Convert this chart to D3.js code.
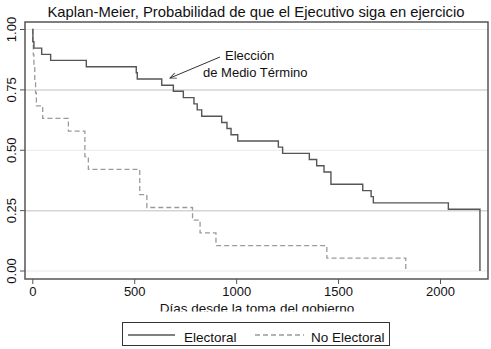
<!DOCTYPE html>
<html><head><meta charset="utf-8">
<script src="https://cdn.jsdelivr.net/npm/d3@7"></script>
<style>body{margin:0;background:#fff}svg{display:block}text{font-family:"Liberation Sans",Arial,sans-serif;fill:#111}</style>
</head><body>
<svg id="c" width="491" height="349"></svg>
<script>
// Data (Kaplan-Meier step curves)
const electoralDays = [0, 3, 8, 46, 90, 265, 510, 515, 635, 692, 741, 793, 809, 831, 929, 955, 975, 1008, 1207, 1228, 1359, 1395, 1431, 1465, 1621, 1662, 1673, 2041, 2196];
const electoralSurv = [1.000, 0.949, 0.923, 0.897, 0.872, 0.846, 0.821, 0.795, 0.769, 0.744, 0.718, 0.692, 0.667, 0.641, 0.615, 0.590, 0.564, 0.538, 0.513, 0.487, 0.462, 0.436, 0.410, 0.359, 0.333, 0.308, 0.282, 0.256, 0.000];
const noElectoralDays = [0, 2, 5, 8, 12, 16, 20, 51, 177, 258, 275, 527, 562, 786, 823, 901, 1445, 1832];
const noElectoralSurv = [1.000, 0.947, 0.895, 0.842, 0.789, 0.737, 0.684, 0.632, 0.579, 0.474, 0.421, 0.316, 0.263, 0.211, 0.158, 0.105, 0.053, 0.000];
const xTicks = [0, 500, 1000, 1500, 2000];
const yTicks = [0, 0.25, 0.5, 0.75, 1];
const seriesNames = ["Electoral", "No Electoral"];
const titleText = "Kaplan-Meier, Probabilidad de que el Ejecutivo siga en ejercicio";
const xTitle = "Días desde la toma del gobierno";
const annotation = ["Elección", "de Medio Término"];

const svg = d3.select("#c");
const x = d3.scaleLinear().domain([0, 2000]).range([32.3, 440]);
const y = d3.scaleLinear().domain([0, 1]).range([271, 29.5]);
const L = 25, R = 488, T = 22, B = 279;

// gridlines
svg.append("g").selectAll("line").data(yTicks).join("line")
  .attr("x1", L).attr("x2", R).attr("y1", d => y(d)).attr("y2", d => y(d))
  .attr("stroke", d => (d === 0.25 || d === 0.75) ? "#d4d4d4" : "#e8e8e8")
  .attr("stroke-width", d => (d === 0.25 || d === 0.75) ? 1.5 : 1);

// axes
const yAxis = d3.axisLeft(y).tickValues(yTicks).tickFormat(d3.format(".2f")).tickSize(5).tickPadding(4);
const gy = svg.append("g").attr("transform", `translate(${L},0)`).call(yAxis);
gy.select(".domain").remove();
gy.selectAll("line").attr("stroke", "#555").attr("stroke-width", 1);
gy.selectAll(".tick").attr("transform", null);
gy.selectAll(".tick line").attr("transform", d => `translate(0,${y(d)})`);
gy.selectAll(".tick text").attr("font-size", 13).attr("text-anchor", "middle")
  .attr("x", null).attr("dy", null).attr("y", 0)
  .attr("transform", d => `translate(-9,${y(d)}) rotate(-90)`);

const xAxis = d3.axisBottom(x).tickValues(xTicks).tickFormat(d3.format("d")).tickSize(5).tickPadding(3);
const gx = svg.append("g").attr("transform", `translate(0,${B})`).call(xAxis);
gx.select(".domain").remove();
gx.selectAll("line").attr("stroke", "#555");
gx.selectAll("text").attr("font-size", 13).attr("fill", "#111");

// frame
svg.append("rect").attr("x", L).attr("y", T).attr("width", R - L).attr("height", B - T)
  .attr("fill", "none").attr("stroke", "#555").attr("stroke-width", 1.5);

// curves
const line = d3.line().x(d => x(d[0])).y(d => y(d[1])).curve(d3.curveStepAfter);
const eData = electoralDays.map((d, i) => [d, electoralSurv[i]]);
const nData = noElectoralDays.map((d, i) => [d, noElectoralSurv[i]]);
svg.append("path").attr("d", line(nData)).attr("fill", "none")
  .attr("stroke", "#9a9a9a").attr("stroke-width", 1.3).attr("stroke-dasharray", "5,3");
svg.append("path").attr("d", line(eData)).attr("fill", "none")
  .attr("stroke", "#555").attr("stroke-width", 1.4);

// annotation
svg.append("text").attr("x", 225).attr("y", 60).attr("font-size", 13).text(annotation[0]);
svg.append("text").attr("x", 203).attr("y", 77).attr("font-size", 13).text(annotation[1]);
svg.append("defs").append("marker").attr("id", "ah").attr("viewBox", "0 0 10 10")
  .attr("refX", 9).attr("refY", 5).attr("markerWidth", 7).attr("markerHeight", 7)
  .attr("orient", "auto").append("path").attr("d", "M0,1 L9,5 L0,9").attr("fill", "none")
  .attr("stroke", "#333").attr("stroke-width", 1.3);
svg.append("line").attr("x1", 220).attr("y1", 57).attr("x2", 170).attr("y2", 78)
  .attr("stroke", "#333").attr("stroke-width", 1).attr("marker-end", "url(#ah)");

// title
svg.append("text").attr("x", 256).attr("y", 17).attr("text-anchor", "middle")
  .attr("font-size", 14.8).text(titleText);

// x title (bottom clipped as in the original)
svg.append("text").attr("x", 257).attr("y", 313).attr("text-anchor", "middle")
  .attr("font-size", 13.5).text(xTitle);
svg.append("rect").attr("x", 150).attr("y", 311.5).attr("width", 220).attr("height", 10).attr("fill", "#fff");

// legend
const lg = svg.append("g");
lg.append("rect").attr("x", 122.5).attr("y", 322.5).attr("width", 267).attr("height", 23)
  .attr("fill", "#fff").attr("stroke", "#333").attr("stroke-width", 1);
lg.append("line").attr("x1", 128).attr("x2", 175).attr("y1", 335).attr("y2", 335)
  .attr("stroke", "#555").attr("stroke-width", 1.4);
lg.append("line").attr("x1", 255).attr("x2", 304).attr("y1", 335).attr("y2", 335)
  .attr("stroke", "#9a9a9a").attr("stroke-width", 1.3).attr("stroke-dasharray", "5,3");
lg.append("text").attr("x", 184).attr("y", 342).attr("font-size", 13.5).text(seriesNames[0]);
lg.append("text").attr("x", 311).attr("y", 342).attr("font-size", 13.5).text(seriesNames[1]);
</script>
</body></html>
